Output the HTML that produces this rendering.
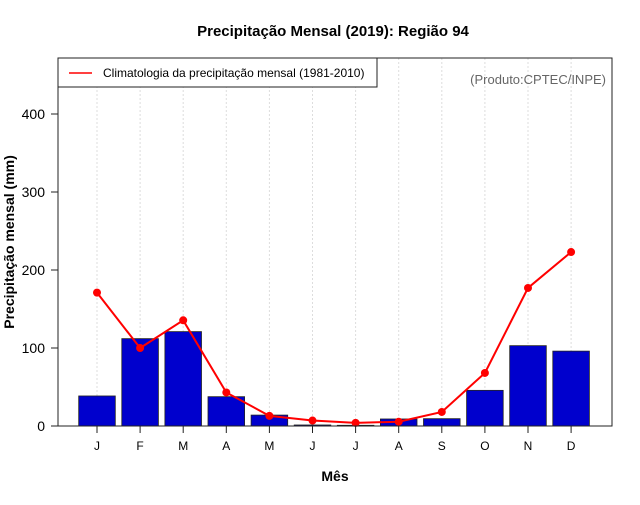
<!DOCTYPE html>
<html><head><meta charset="utf-8"><style>
body{margin:0;background:#fff;font-family:"Liberation Sans",sans-serif;}
</style></head><body>
<svg id="chart" width="640" height="500" xmlns="http://www.w3.org/2000/svg" font-family="Liberation Sans, sans-serif"></svg>
<script>
const months = ["J","F","M","A","M","J","J","A","S","O","N","D"];
const observed = [38.5,112,121,37.6,14,1.3,0.9,9,9.4,45.7,103,96];
const climatology = [171,100,135.5,43,13,7,4,5.5,18,68,177,223];
const yTicks = [0,100,200,300,400];

const svg = document.getElementById('chart');
const NS = "http://www.w3.org/2000/svg";
const L=58,R=612,T=58,B=426;
function xPos(i){return 97 + i*43.1;}
function yPos(v){return B - v*0.78;}
function mk(tag,attrs,parent){const e=document.createElementNS(NS,tag);for(const k in attrs)e.setAttribute(k,attrs[k]);(parent||svg).appendChild(e);return e;}

let t=mk('text',{x:333,y:36,'text-anchor':'middle','font-size':15,'font-weight':'bold'});
t.textContent="Precipitação Mensal (2019): Região 94";



months.forEach((m,i)=>{
  const g=mk('line',{x1:xPos(i),x2:xPos(i),y1:T,y2:B,stroke:'#ddd','stroke-dasharray':'2,2','stroke-width':1});
  
  
});

observed.forEach((v,i)=>{
  const b=mk('rect',{x:xPos(i)-18.3,y:yPos(v),width:36.6,height:B-yPos(v),fill:'#0000cd',stroke:'#222','stroke-width':0.8});
  
  
});

const pl=mk('polyline',{points:climatology.map((v,i)=>xPos(i)+','+yPos(v)).join(' '),fill:'none',stroke:'#f00','stroke-width':2});


climatology.forEach((v,i)=>{
  const c=mk('circle',{cx:xPos(i),cy:yPos(v),r:4,fill:'#f00'});
  
  
});

const box=mk('rect',{x:L,y:T,width:R-L,height:B-T,fill:'none',stroke:'#222','stroke-width':1});



yTicks.forEach(v=>{
  const tk=mk('line',{x1:L-7,x2:L,y1:yPos(v),y2:yPos(v),stroke:'#222'});
  
  
  const lb=mk('text',{x:45,y:yPos(v)+5,'text-anchor':'end','font-size':14});
  lb.textContent=v;
  
  
});
months.forEach((m,i)=>{
  const tk=mk('line',{x1:xPos(i),x2:xPos(i),y1:B,y2:B+7,stroke:'#222'});
  
  
  const lb=mk('text',{x:xPos(i),y:450,'text-anchor':'middle','font-size':12});
  lb.textContent=m;
  
  
});

t=mk('text',{x:335,y:481,'text-anchor':'middle','font-size':14,'font-weight':'bold'});
t.textContent="Mês";


t=mk('text',{x:0,y:0,'text-anchor':'middle','font-size':14,'font-weight':'bold',transform:'translate(14,242) rotate(-90)'});
t.textContent="Precipitação mensal (mm)";



const lg=mk('rect',{x:58,y:58,width:319,height:29,fill:'#fff',stroke:'#222','stroke-width':1});


const ll=mk('line',{x1:69,x2:92,y1:73,y2:73,stroke:'#f00','stroke-width':1.5});


t=mk('text',{x:103,y:77,'font-size':12});
t.textContent="Climatologia da precipitação mensal (1981-2010)";


t=mk('text',{x:606,y:84,'text-anchor':'end','font-size':13,fill:'#666'});
t.textContent="(Produto:CPTEC/INPE)";


</script>
</body></html>
